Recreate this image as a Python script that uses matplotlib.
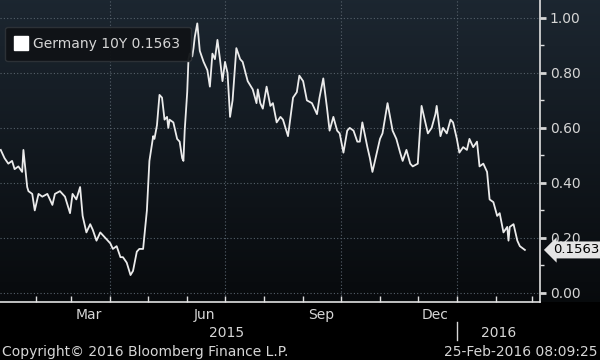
import numpy as np
import pandas as pd
import matplotlib.pyplot as plt
import matplotlib.dates as mdates
from matplotlib.lines import Line2D

# Germany 10Y yield
dates = [
    "2015-01-04", "2015-01-07", "2015-01-10", "2015-01-13", "2015-01-15", "2015-01-18",
    "2015-01-21", "2015-01-22", "2015-01-25", "2015-01-26", "2015-01-29", "2015-01-31",
    "2015-02-03", "2015-02-06", "2015-02-10", "2015-02-14", "2015-02-16", "2015-02-20",
    "2015-02-24", "2015-02-28", "2015-03-02", "2015-03-05", "2015-03-08", "2015-03-10",
    "2015-03-13", "2015-03-16", "2015-03-18", "2015-03-21", "2015-03-24", "2015-03-28",
    "2015-04-01", "2015-04-03", "2015-04-06", "2015-04-09", "2015-04-11", "2015-04-14",
    "2015-04-17", "2015-04-19", "2015-04-22", "2015-04-24", "2015-04-27", "2015-04-30",
    "2015-05-02", "2015-05-05", "2015-05-06", "2015-05-08", "2015-05-10", "2015-05-12",
    "2015-05-13", "2015-05-14", "2015-05-16", "2015-05-17", "2015-05-18", "2015-05-21",
    "2015-05-24", "2015-05-26", "2015-05-28", "2015-05-29", "2015-05-30", "2015-06-01",
    "2015-06-02", "2015-06-03", "2015-06-05", "2015-06-06", "2015-06-07", "2015-06-09",
    "2015-06-11", "2015-06-14", "2015-06-17", "2015-06-19", "2015-06-21", "2015-06-23",
    "2015-06-25", "2015-06-27", "2015-06-29", "2015-07-01", "2015-07-03", "2015-07-05",
    "2015-07-07", "2015-07-10", "2015-07-13", "2015-07-15", "2015-07-19", "2015-07-23",
    "2015-07-26", "2015-07-27", "2015-07-29", "2015-07-31", "2015-08-03", "2015-08-06",
    "2015-08-08", "2015-08-11", "2015-08-14", "2015-08-16", "2015-08-20", "2015-08-24",
    "2015-08-27", "2015-08-29", "2015-09-01", "2015-09-04", "2015-09-08", "2015-09-12",
    "2015-09-14", "2015-09-17", "2015-09-20", "2015-09-22", "2015-09-25", "2015-09-28",
    "2015-09-30", "2015-10-03", "2015-10-06", "2015-10-08", "2015-10-11", "2015-10-14",
    "2015-10-16", "2015-10-18", "2015-10-22", "2015-10-24", "2015-10-26", "2015-10-30",
    "2015-11-01", "2015-11-03", "2015-11-07", "2015-11-09", "2015-11-11", "2015-11-14",
    "2015-11-17", "2015-11-19", "2015-11-22", "2015-11-25", "2015-11-27", "2015-12-01",
    "2015-12-04", "2015-12-07", "2015-12-09", "2015-12-12", "2015-12-15", "2015-12-16",
    "2015-12-19", "2015-12-21", "2015-12-24", "2015-12-27", "2015-12-29", "2016-01-01",
    "2016-01-03", "2016-01-06", "2016-01-09", "2016-01-11", "2016-01-14", "2016-01-17",
    "2016-01-19", "2016-01-22", "2016-01-25", "2016-01-27", "2016-01-30", "2016-02-02",
    "2016-02-04", "2016-02-07", "2016-02-10", "2016-02-11", "2016-02-12", "2016-02-15",
    "2016-02-18", "2016-02-20", "2016-02-24",
]
yields = [
    0.52, 0.49, 0.47, 0.48, 0.45, 0.46,
    0.44, 0.52, 0.385, 0.37, 0.36, 0.30,
    0.36, 0.35, 0.36, 0.32, 0.36, 0.37,
    0.35, 0.29, 0.36, 0.34, 0.385, 0.28,
    0.22, 0.25, 0.23, 0.19, 0.22, 0.20,
    0.18, 0.16, 0.17, 0.13, 0.13, 0.11,
    0.065, 0.08, 0.15, 0.16, 0.16, 0.30,
    0.48, 0.57, 0.56, 0.61, 0.72, 0.71,
    0.67, 0.63, 0.64, 0.60, 0.63, 0.62,
    0.56, 0.55, 0.49, 0.48, 0.59, 0.73,
    0.85, 0.87, 0.86, 0.89, 0.93, 0.98,
    0.88, 0.84, 0.81, 0.75, 0.87, 0.85,
    0.92, 0.85, 0.77, 0.84, 0.80, 0.64,
    0.70, 0.89, 0.85, 0.84, 0.77, 0.74,
    0.69, 0.74, 0.69, 0.67, 0.75, 0.68,
    0.69, 0.62, 0.64, 0.63, 0.57, 0.71,
    0.73, 0.79, 0.77, 0.70, 0.69, 0.65,
    0.71, 0.78, 0.67, 0.59, 0.64, 0.59,
    0.58, 0.51, 0.59, 0.60, 0.59, 0.55,
    0.55, 0.62, 0.53, 0.49, 0.44, 0.52,
    0.56, 0.58, 0.69, 0.64, 0.59, 0.56,
    0.51, 0.48, 0.52, 0.47, 0.46, 0.47,
    0.68, 0.62, 0.58, 0.60, 0.65, 0.68,
    0.57, 0.60, 0.58, 0.63, 0.62, 0.56,
    0.51, 0.53, 0.52, 0.56, 0.53, 0.55,
    0.46, 0.47, 0.44, 0.34, 0.33, 0.28,
    0.29, 0.22, 0.24, 0.19, 0.24, 0.25,
    0.19, 0.17, 0.1563,
]
series_name = "Germany 10Y"
last_value = "0.1563"
year_labels = ["2015", "2016"]
yticks = [0.0, 0.2, 0.4, 0.6, 0.8, 1.0]

x = pd.to_datetime(dates)
txt = "#d6d6d6"

fig = plt.figure(figsize=(6, 3.6), dpi=100, facecolor="black")

# dark gradient behind the plot and the right labels
bg = fig.add_axes([0, 58 / 360, 1, 302 / 360], zorder=-10)
grad = np.linspace(0, 1, 256).reshape(-1, 1)
top = np.array([0.11, 0.15, 0.19])
bot = np.array([0.03, 0.04, 0.05])
img = top + (bot - top) * grad[..., None]
bg.imshow(img, aspect="auto", extent=[0, 1, 0, 1])
bg.axis("off")

ax = fig.add_axes([0, 58 / 360, 0.9, 302 / 360])
ax.set_facecolor("none")
ax.plot(x, yields, color="#ebebeb", lw=1.3, zorder=4)

ax.set_xlim(pd.Timestamp("2015-01-03 10:00"), pd.Timestamp("2016-03-07"))
ax.set_ylim(-0.033, 1.065)

for s in ["top", "left"]:
    ax.spines[s].set_visible(False)
for s in ["right", "bottom"]:
    ax.spines[s].set_color("#e0e0e0")
    ax.spines[s].set_linewidth(1.2)

# y axis on the right
ax.yaxis.tick_right()
ax.set_yticks(yticks)
ax.set_yticklabels([f"{v:.2f}" for v in yticks])
ax.set_yticks(np.arange(0.1, 1.0, 0.2), minor=True)
ax.tick_params(axis="y", which="major", colors=txt, labelsize=10, length=4,
               width=2, direction="out", pad=3)
ax.tick_params(axis="y", which="minor", colors="#e0e0e0", length=3, width=1,
               direction="out")
ax.grid(axis="y", which="major", color="#56616b", linestyle=(0, (1, 2)), lw=0.8)

# x axis: month ticks, quarter labels
ax.xaxis.set_major_locator(mdates.MonthLocator())
ax.xaxis.set_major_formatter(plt.NullFormatter())
ax.xaxis.set_minor_locator(mdates.MonthLocator(bymonth=[3, 6, 9, 12], bymonthday=15))
ax.xaxis.set_minor_formatter(mdates.DateFormatter("%b"))
ax.tick_params(axis="x", which="major", colors="#e0e0e0", direction="in",
               length=4, width=1)
ax.tick_params(axis="x", which="minor", length=0, labelcolor=txt,
               labelsize=10, pad=4)

for q in ["2015-04-01", "2015-07-01", "2015-10-01", "2016-01-01"]:
    ax.axvline(pd.Timestamp(q), color="#56616b", linestyle=(0, (1, 2)), lw=0.8, zorder=1)

# year row
xt = ax.get_xaxis_transform()
ax.text(pd.Timestamp("2015-07-02"), -0.103, year_labels[0], transform=xt,
        ha="center", va="center", color=txt, fontsize=10, clip_on=False)
ax.text(pd.Timestamp("2016-02-03"), -0.103, year_labels[1], transform=xt,
        ha="center", va="center", color=txt, fontsize=10, clip_on=False)
ax.plot([pd.Timestamp("2016-01-01")] * 2, [-0.066, -0.126], transform=xt,
        color=txt, lw=1, clip_on=False)

# legend box
h = Line2D([], [], marker="s", color="white", linestyle="none", markersize=10)
leg = ax.legend([h], [f"{series_name} {last_value}"], loc="upper left",
                bbox_to_anchor=(0.009, 0.912), borderaxespad=0, handlelength=0.8,
                handletextpad=0.5, fontsize=10, frameon=True, borderpad=0.75)
leg.get_frame().set_facecolor("#101316")
leg.get_frame().set_edgecolor("#2e3338")
leg.get_frame().set_alpha(0.95)
for t in leg.get_texts():
    t.set_color(txt)

# last value tag
yt = ax.get_yaxis_transform()
ax.text(1.024, float(yields[-1]), last_value, transform=yt, ha="left", va="center",
        fontsize=9.5, color="black", zorder=6, clip_on=False,
        bbox=dict(boxstyle="larrow,pad=0.15", fc="#e4e4e4", ec="none"))

fig.text(0.004, 0.022, "Copyright\u00a9 2016 Bloomberg Finance L.P.", color=txt,
         fontsize=10, ha="left", va="center")
fig.text(0.996, 0.022, "25-Feb-2016 08:09:25", color=txt,
         fontsize=10, ha="right", va="center")

fig.savefig("out.png", dpi=100, facecolor="black")
